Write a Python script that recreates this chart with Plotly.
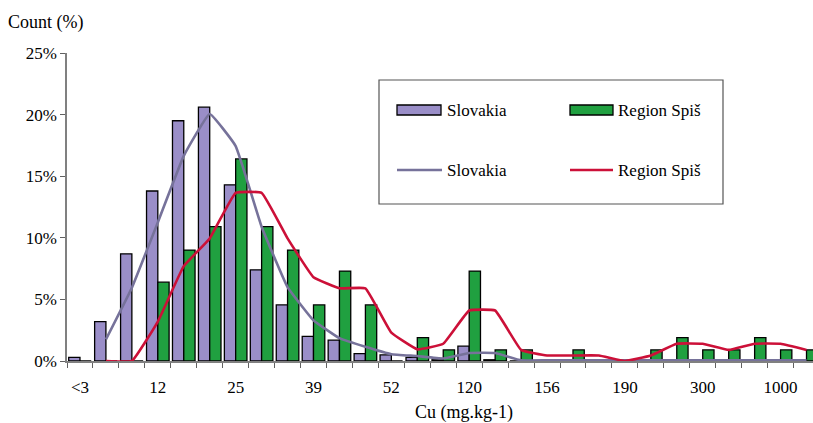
import plotly.graph_objects as go

# ---- data ----
bins = list(range(29))                      # histogram classes, left to right
tick_positions = [0, 3, 6, 9, 12, 15, 18, 21, 24, 27]
tick_labels = ["<3", "12", "25", "39", "52", "120", "156", "190", "300", "1000"]
y_ticks = [0, 5, 10, 15, 20, 25]
y_tick_labels = ["0%", "5%", "10%", "15%", "20%", "25%"]

slovakia_pct = [0.3, 3.2, 8.7, 13.8, 19.5, 20.6, 14.3, 7.4, 4.55, 2.0,
                1.7, 0.6, 0.5, 0.3, 0.1, 1.2, 0.1, 0, 0, 0,
                0, 0, 0, 0.1, 0, 0, 0, 0, 0]
spis_pct = [0, 0, 0, 6.4, 9.0, 10.9, 16.4, 10.9, 9.0, 4.55,
            7.3, 4.55, 0, 1.9, 0.9, 7.3, 0.9, 0.9, 0, 0.9,
            0, 0, 0.9, 1.9, 0.9, 0.9, 1.9, 0.9, 0.9]

slovakia_line = [None, 1.75, 5.95, 11.25, 16.65, 20.05, 17.45, 10.9, 6.0, 3.3,
                 1.85, 1.15, 0.55, 0.4, 0.2, 0.65, 0.65, 0.05, 0.05, 0.05,
                 0.05, 0.05, 0.05, 0.05, 0.05, 0.05, 0.05, 0.05, 0.05]
spis_line = [None, 0, 0, 3.2, 7.7, 9.95, 13.65, 13.65, 9.95, 6.8,
             5.9, 5.9, 2.3, 0.95, 1.4, 4.1, 4.1, 0.9, 0.45, 0.45,
             0.45, 0, 0.45, 1.4, 1.4, 0.9, 1.4, 1.4, 0.9]

# ---- styles ----
C_SLOV = "#9a8ec8"
C_SPIS = "#20a040"
C_SLOV_LINE = "#76729a"
C_SPIS_LINE = "#cc1038"
FONT = "Liberation Serif"

W, H = 813, 423
L, R, T, B = 67, 0, 53, 62
PW, PH = W - L - R, H - T - B


def px(x):
    return (x - L) / PW


def py(y):
    return (H - B - y) / PH


fig = go.Figure()
fig.add_trace(go.Bar(x=bins, y=slovakia_pct, name="Slovakia",
                     marker=dict(color=C_SLOV, line=dict(color="black", width=1.3)),
                     showlegend=False))
fig.add_trace(go.Bar(x=bins, y=spis_pct, name="Region Spiš",
                     marker=dict(color=C_SPIS, line=dict(color="black", width=1.3)),
                     showlegend=False))
fig.add_trace(go.Scatter(x=bins, y=slovakia_line, name="Slovakia", mode="lines",
                         line=dict(color=C_SLOV_LINE, width=2.6, shape="spline", smoothing=0.3),
                         showlegend=False))
fig.add_trace(go.Scatter(x=bins, y=spis_line, name="Region Spiš", mode="lines",
                         line=dict(color=C_SPIS_LINE, width=2.6, shape="spline", smoothing=0.3),
                         showlegend=False))

# manual legend (box, swatches, labels)
shapes = [
    dict(type="rect", xref="paper", yref="paper", x0=px(379), x1=px(723), y0=py(204), y1=py(80),
         line=dict(color="#555555", width=1.2), fillcolor="rgba(0,0,0,0)"),
    dict(type="rect", xref="paper", yref="paper", x0=px(397), x1=px(441), y0=py(115), y1=py(105),
         line=dict(color="black", width=1.3), fillcolor=C_SLOV),
    dict(type="rect", xref="paper", yref="paper", x0=px(570), x1=px(613), y0=py(115), y1=py(105),
         line=dict(color="black", width=1.3), fillcolor=C_SPIS),
    dict(type="line", xref="paper", yref="paper", x0=px(397), x1=px(442), y0=py(170), y1=py(170),
         line=dict(color=C_SLOV_LINE, width=2.6)),
    dict(type="line", xref="paper", yref="paper", x0=px(570), x1=px(613), y0=py(170), y1=py(170),
         line=dict(color=C_SPIS_LINE, width=2.6)),
]
ann_font = dict(family=FONT, size=17, color="black")
annotations = [
    dict(text="Slovakia", x=px(445), y=py(110)),
    dict(text="Region Spiš", x=px(616), y=py(110)),
    dict(text="Slovakia", x=px(445), y=py(170)),
    dict(text="Region Spiš", x=px(616), y=py(170)),
]
annotations = [dict(a, xref="paper", yref="paper", xanchor="left", yanchor="middle",
                    showarrow=False, font=ann_font) for a in annotations]
annotations.append(dict(text="Count (%)", xref="paper", yref="paper", x=px(6), y=py(22),
                        xanchor="left", yanchor="middle", showarrow=False,
                        font=dict(family=FONT, size=18, color="black")))
annotations.append(dict(text="Cu (mg.kg-1)", xref="paper", yref="paper", x=px(464), y=py(412),
                        xanchor="center", yanchor="middle", showarrow=False,
                        font=dict(family=FONT, size=18, color="black")))

fig.update_layout(
    width=W, height=H,
    margin=dict(l=L, r=R, t=T, b=B),
    paper_bgcolor="white", plot_bgcolor="white",
    barmode="group", bargap=0.13, bargroupgap=0,
    font=dict(family=FONT, size=17, color="black"),
    shapes=shapes, annotations=annotations,
    xaxis=dict(range=[-0.5, 28.25], showgrid=False, zeroline=False,
               showline=True, linecolor="#808080", linewidth=1.5,
               tickmode="array", tickvals=tick_positions, ticktext=tick_labels,
               ticks="", ticklabelstandoff=10,
               minor=dict(tickmode="array", tickvals=[b - 0.5 for b in bins] + [28.5],
                          ticks="outside", ticklen=5, tickwidth=1.2, tickcolor="#606060"),
               tickfont=dict(family=FONT, size=17)),
    yaxis=dict(range=[0, 25], tickmode="array", tickvals=y_ticks, ticktext=y_tick_labels,
               showgrid=False, zeroline=False, showline=True, linecolor="#808080",
               linewidth=1.5, ticks="outside", ticklen=5, tickwidth=1.2, tickcolor="#606060",
               tickfont=dict(family=FONT, size=17)),
)

fig.write_html("out.html")
